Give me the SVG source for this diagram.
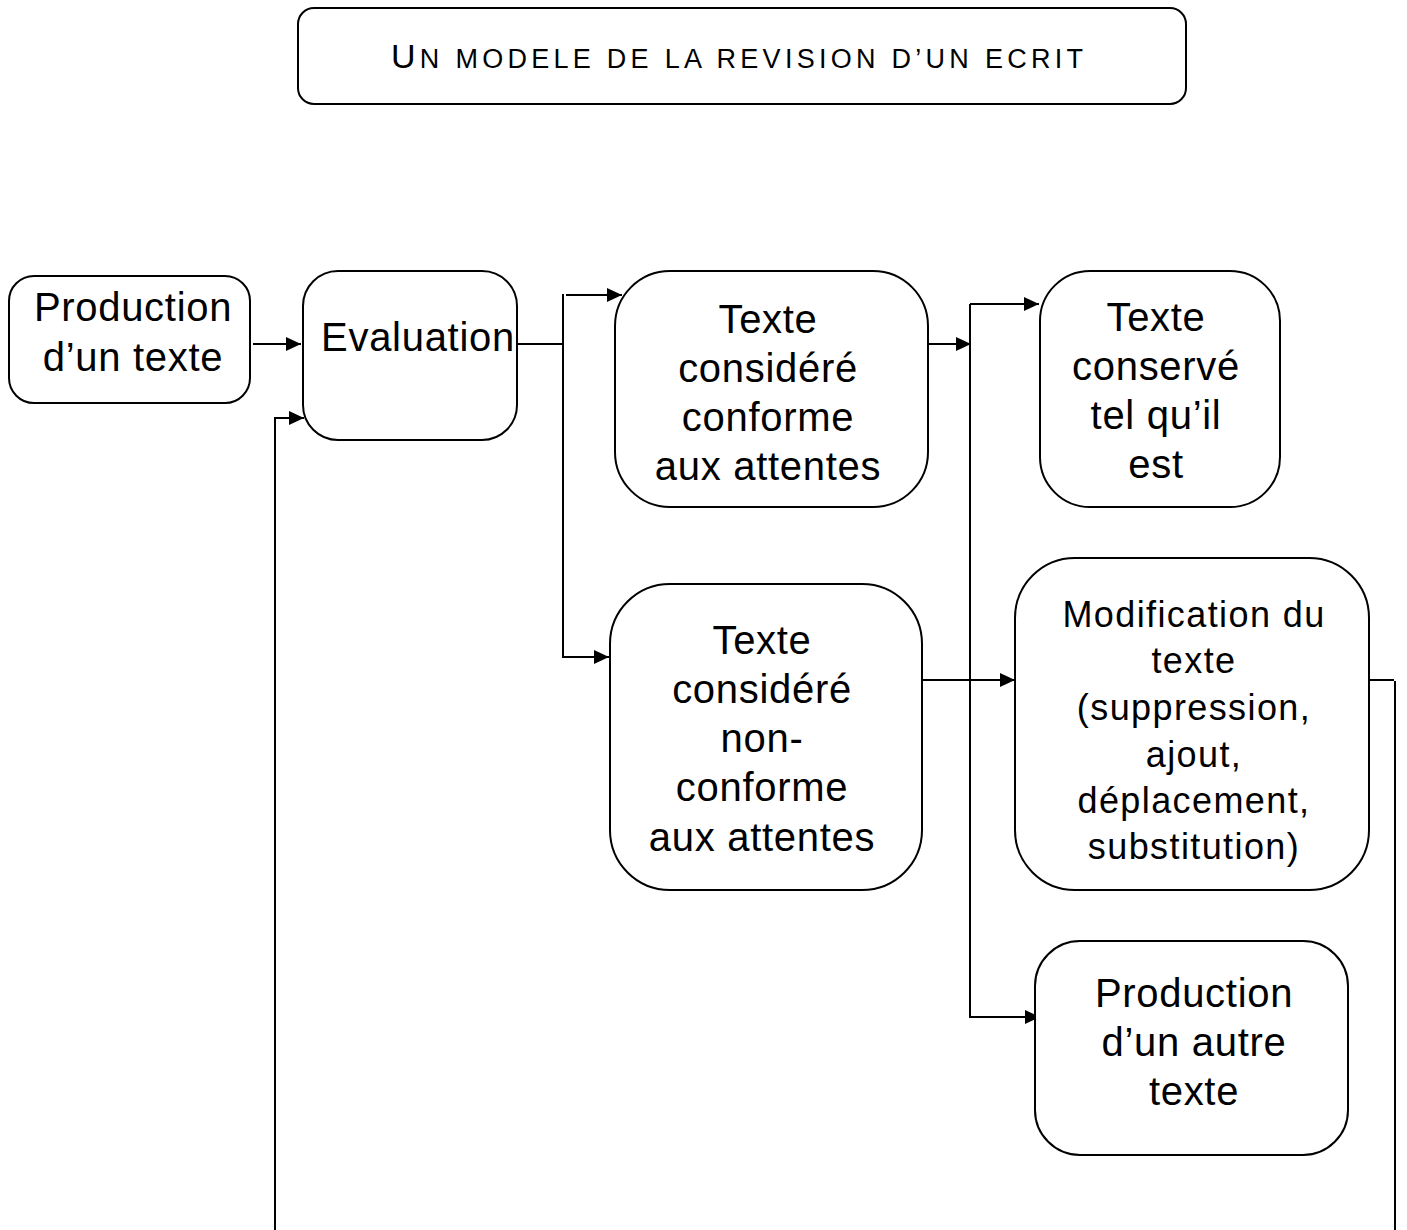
<svg xmlns="http://www.w3.org/2000/svg" width="1407" height="1230" viewBox="0 0 1407 1230">
<style>
.box{fill:#fff;stroke:#000;stroke-width:2}
.t{font-family:"Liberation Sans",Arial,sans-serif;font-size:40px;letter-spacing:0.7px;fill:#000;text-anchor:middle}
.s{font-size:36px;letter-spacing:1.4px}
.ttl{font-family:"Liberation Sans",Arial,sans-serif;fill:#000;text-anchor:middle}
.c{fill:none;stroke:#000;stroke-width:2}
</style>
<defs>
<marker id="ah" markerUnits="userSpaceOnUse" markerWidth="16" markerHeight="14" refX="15" refY="7" orient="auto">
<path d="M0,0 L15,7 L0,14 z" fill="#000"/>
</marker>
</defs>
<rect width="1407" height="1230" fill="#fff"/>
<g id="title">
<rect class="box" x="298" y="8" width="888" height="96" rx="16"/>
<text class="ttl" x="737" y="68" font-size="27" textLength="692" lengthAdjust="spacing"><tspan font-size="34">U</tspan>N MODELE DE LA REVISION D’UN ECRIT</text>
</g>
<g id="connectors">
<line class="c" x1="253" y1="344" x2="301" y2="344" marker-end="url(#ah)"/>
<polyline class="c" points="275,1230 275,418 304,418" marker-end="url(#ah)"/>
<polyline class="c" points="518,344 563,344"/>
<line class="c" x1="563" y1="294" x2="563" y2="658"/>
<line class="c" x1="566" y1="295" x2="622" y2="295" marker-end="url(#ah)"/>
<line class="c" x1="563" y1="657" x2="609" y2="657" marker-end="url(#ah)"/>
<line class="c" x1="928" y1="344" x2="971" y2="344" marker-end="url(#ah)"/>
<line class="c" x1="970" y1="304" x2="970" y2="1018"/>
<line class="c" x1="970" y1="304" x2="1039" y2="304" marker-end="url(#ah)"/>
<line class="c" x1="970" y1="1017" x2="1040" y2="1017" marker-end="url(#ah)"/>
<line class="c" x1="922" y1="680" x2="1015" y2="680" marker-end="url(#ah)"/>
<polyline class="c" points="1369,680 1394,680"/>
<line class="c" x1="1395" y1="681" x2="1395" y2="1230"/>
</g>
<g id="production">
<rect class="box" x="9" y="276" width="241" height="127" rx="25"/>
<text class="t" x="133" y="321">Production</text>
<text class="t" x="133" y="371">d’un texte</text>
</g>
<g id="evaluation">
<rect class="box" x="303" y="271" width="214" height="169" rx="35"/>
<text class="t" x="418" y="351">Evaluation</text>
</g>
<g id="conforme">
<rect class="box" x="615" y="271" width="313" height="236" rx="55"/>
<text class="t" x="768" y="333">Texte</text>
<text class="t" x="768" y="382">considéré</text>
<text class="t" x="768" y="431">conforme</text>
<text class="t" x="768" y="480">aux attentes</text>
</g>
<g id="conserve">
<rect class="box" x="1040" y="271" width="240" height="236" rx="50"/>
<text class="t" x="1156" y="331">Texte</text>
<text class="t" x="1156" y="380">conservé</text>
<text class="t" x="1156" y="429">tel qu’il</text>
<text class="t" x="1156" y="478">est</text>
</g>
<g id="nonconforme">
<rect class="box" x="610" y="584" width="312" height="306" rx="60"/>
<text class="t" x="762" y="654">Texte</text>
<text class="t" x="762" y="703">considéré</text>
<text class="t" x="762" y="752">non-</text>
<text class="t" x="762" y="801">conforme</text>
<text class="t" x="762" y="851">aux attentes</text>
</g>
<g id="modification">
<rect class="box" x="1015" y="558" width="354" height="332" rx="60"/>
<text class="t s" x="1194" y="627">Modification du</text>
<text class="t s" x="1194" y="673">texte</text>
<text class="t s" x="1194" y="720">(suppression,</text>
<text class="t s" x="1194" y="767">ajout,</text>
<text class="t s" x="1194" y="813">déplacement,</text>
<text class="t s" x="1194" y="859">substitution)</text>
</g>
<g id="autre">
<rect class="box" x="1035" y="941" width="313" height="214" rx="45"/>
<text class="t" x="1194" y="1007">Production</text>
<text class="t" x="1194" y="1056">d’un autre</text>
<text class="t" x="1194" y="1105">texte</text>
</g>
</svg>
